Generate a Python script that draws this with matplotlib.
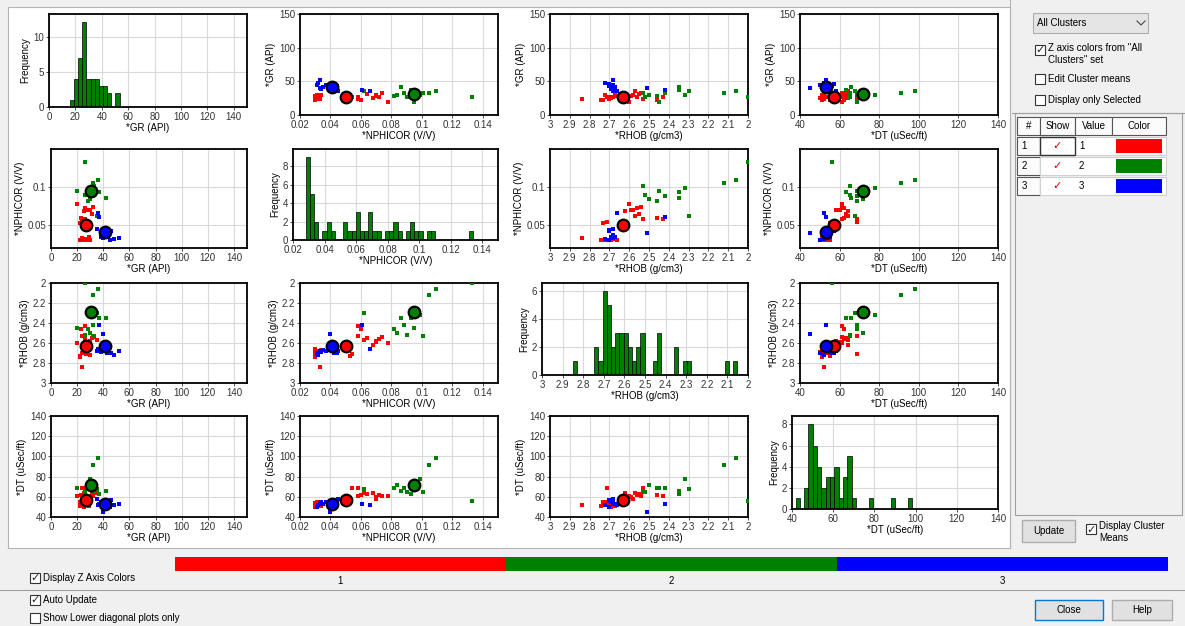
import matplotlib.pyplot as plt
import numpy as np
from matplotlib.patches import Rectangle
from matplotlib.ticker import FuncFormatter

plt.rcParams['font.family'] = ['Liberation Sans', 'DejaVu Sans']
plt.rcParams['font.size'] = 7

######## data ########

var_labels = ['*GR (API)', '*NPHICOR (V/V)', '*RHOB (g/cm3)', '*DT (uSec/ft)']

cluster_names = ['1', '2', '3']
cluster_colors = ['#ff0000', '#008000', '#0000ff']

# cluster 1 (red)
red_gr = [22, 24, 25, 27, 28, 30, 24, 26, 29, 22, 27, 24, 35, 26, 28, 30, 26, 32, 20, 25, 23, 31]
red_nphi = [0.030, 0.031, 0.030, 0.032, 0.030, 0.031, 0.033, 0.030, 0.034, 0.053, 0.054,
            0.058, 0.062, 0.058, 0.070, 0.070, 0.072, 0.074, 0.078, 0.068, 0.060, 0.064]
red_rhob = [2.74, 2.70, 2.69, 2.68, 2.66, 2.72, 2.84, 2.70, 2.67, 2.73, 2.71,
            2.53, 2.57, 2.43, 2.59, 2.58, 2.56, 2.54, 2.60, 2.62, 2.46, 2.55]
red_dt = [51, 52, 50, 53, 52, 55, 52, 54, 51, 55, 69, 69, 64, 61, 60, 58, 62, 61, 61, 64, 62, 63]

# cluster 2 (green)
green_gr = [35, 28, 30, 42, 32, 26, 37, 20, 30, 33, 36, 32, 26]
green_nphi = [0.062, 0.082, 0.084, 0.086, 0.088, 0.090, 0.093, 0.095, 0.099, 0.101, 0.109, 0.105, 0.133]
green_rhob = [2.30, 2.46, 2.50, 2.35, 2.42, 2.52, 2.35, 2.45, 2.32, 2.53, 2.06, 2.12, 2.00]
green_dt = [68, 69, 72, 66, 69, 65, 63, 69, 78, 65, 98, 91, 56]

# cluster 3 (blue)
blue_gr = [45, 48, 40, 38, 42, 52, 44, 40, 46, 35, 36, 37, 43]
blue_nphi = [0.031, 0.032, 0.033, 0.034, 0.035, 0.033, 0.037, 0.040, 0.042, 0.045, 0.066, 0.061, 0.044]
blue_rhob = [2.70, 2.72, 2.68, 2.69, 2.67, 2.68, 2.68, 2.51, 2.70, 2.68, 2.66, 2.42, 2.70]
blue_dt = [50, 52, 54, 55, 53, 53, 55, 45, 57, 58, 52, 53, 56]

# cluster means (big circles)
mean_gr = [27, 30.5, 41]
mean_nphi = [0.050, 0.095, 0.041]
mean_rhob = [2.63, 2.29, 2.63]
mean_dt = [57, 72, 53]

# histograms on the diagonal: first bin edge, bin width, counts
gr_hist_start, gr_hist_width = 15.7, 3.15
gr_hist_counts = [1, 4, 7, 12, 4, 4, 4, 3, 3, 2, 0, 2]
nphi_hist_start, nphi_hist_width = 0.028, 0.00265
nphi_hist_counts = [9, 5, 2, 0, 1, 2, 1, 0, 0, 2, 1, 1, 3, 1, 1, 3, 1, 1, 0, 1,
                    1, 2, 1, 0, 1, 2, 1, 1, 0, 1, 1, 0, 0, 0, 0, 0, 0, 0, 0, 1]
rhob_hist_start, rhob_hist_width = 2.052, 0.02044
rhob_hist_counts = [1, 0, 1, 0, 0, 0, 0, 0, 0, 0, 0, 1, 1, 0, 2, 0, 0, 0, 3, 1,
                    0, 0, 3, 2, 1, 2, 3, 3, 3, 2, 5, 6, 1, 2, 0, 0, 0, 0, 1]
dt_hist_start, dt_hist_width = 41.7, 2.1
dt_hist_counts = [1, 0, 2, 8, 6, 4, 2, 3, 3, 4, 1, 3, 5, 1, 0, 0, 0, 1, 0, 0, 0, 0, 1, 0, 0, 0, 1]

points = [
    [red_gr, red_nphi, red_rhob, red_dt],
    [green_gr, green_nphi, green_rhob, green_dt],
    [blue_gr, blue_nphi, blue_rhob, blue_dt],
]
means = [mean_gr, mean_nphi, mean_rhob, mean_dt]
hists = [
    (gr_hist_start, gr_hist_width, gr_hist_counts),
    (nphi_hist_start, nphi_hist_width, nphi_hist_counts),
    (rhob_hist_start, rhob_hist_width, rhob_hist_counts),
    (dt_hist_start, dt_hist_width, dt_hist_counts),
]

######## axis settings ########

lims = [(0, 150), (0.02, 0.15), (3, 2), (40, 140)]
xticks = [np.arange(0, 141, 20), np.round(np.arange(0.02, 0.141, 0.02), 2),
          np.round(np.arange(2.0, 3.01, 0.1), 1), np.arange(40, 141, 20)]
yticks = [[0, 50, 100, 150], [0.05, 0.1], np.round(np.arange(2.0, 3.01, 0.2), 1),
          np.arange(40, 141, 20)]
hist_yticks = [[0, 5, 10], [0, 2, 4, 6, 8], [0, 2, 4, 6], [0, 2, 4, 6, 8]]

W, H = 1185, 626
fig = plt.figure(figsize=(W / 100, H / 100), dpi=100, facecolor='#f0f0f0')

bg = fig.add_axes([0, 0, 1, 1], zorder=-5)
bg.set_xlim(0, W)
bg.set_ylim(H, 0)
bg.axis('off')


def px_axes(x0, y0, x1, y1):
    return fig.add_axes([x0 / W, 1 - y1 / H, (x1 - x0) / W, (y1 - y0) / H])


def rect(x0, y0, x1, y1, fc='none', ec='none', lw=0.8):
    bg.add_patch(Rectangle((x0, y0), x1 - x0, y1 - y0, fc=fc, ec=ec, lw=lw))


def checkbox(x, y, checked):
    rect(x, y, x + 10, y + 10, fc='white', ec='#333333', lw=0.8)
    if checked:
        bg.text(x + 5, y + 5.5, '\u2713', ha='center', va='center', fontsize=8,
                family='DejaVu Sans', color='#222222')


def button(x0, y0, x1, y1, label, ec='#adadad'):
    rect(x0, y0, x1, y1, fc='#e1e1e1', ec=ec, lw=1.0)
    bg.text((x0 + x1) / 2, (y0 + y1) / 2, label, ha='center', va='center', fontsize=7)


fmt = FuncFormatter(lambda v, p: '%g' % round(v, 4))

# matrix area
rect(8, 7, 1010, 548, fc='white', ec='#b4b4b4')

lefts_sc = [51, 300, 550, 800]
rights = [247, 498, 748, 998]
lefts_h = [49, 293, 542, 792]
tops = [14, 149, 283, 416]
bottoms_sc = [115, 248, 383, 517]
bottoms_h = [107, 240, 375, 509]

for i in range(4):          # row -> y variable
    for j in range(4):      # column -> x variable
        if i == j:
            ax = px_axes(lefts_h[j], tops[i], rights[j], bottoms_h[i])
            start, width, counts = hists[j]
            edges = start + width * np.arange(len(counts))
            ax.bar(edges, counts, width=width, align='edge', color='#008000',
                   edgecolor='black', linewidth=0.5, zorder=2)
            ax.set_ylim(0, max(counts) * 1.1)
            ax.set_yticks(hist_yticks[j])
            ax.set_ylabel('Frequency', labelpad=2)
        else:
            ax = px_axes(lefts_sc[j], tops[i], rights[j], bottoms_sc[i])
            for c in range(3):
                ax.scatter(points[c][j], points[c][i], marker='s', s=12,
                           color=cluster_colors[c], linewidths=0, zorder=3)
            shown = [0] if j == 2 else [0, 1, 2]
            for c in shown:
                ax.scatter(means[j][c], means[i][c], marker='o', s=70,
                           color=cluster_colors[c], edgecolors='black',
                           linewidths=1.6, zorder=4)
            ax.set_ylim(lims[i])
            ax.set_yticks(yticks[i])
            ax.set_ylabel(var_labels[i], labelpad=2)
        ax.set_xlim(lims[j])
        ax.set_xticks(xticks[j])
        ax.set_xlabel(var_labels[j], labelpad=0.5)
        ax.xaxis.set_major_formatter(fmt)
        ax.yaxis.set_major_formatter(fmt)
        ax.grid(True, color='#d9d9d9', linewidth=0.8)
        ax.set_axisbelow(True)
        ax.tick_params(labelsize=7, length=2, width=0.6, pad=1.5, colors='#333333')
        for s in ax.spines.values():
            s.set_linewidth(1.3)
            s.set_color('black')

######## right-hand panel ########

bg.plot([1010, 1010], [0, 548], color='#b4b4b4', lw=0.8)
rect(1033, 13, 1148, 33, fc='#e5e5e5', ec='#adadad')
bg.text(1037, 23.5, 'All Clusters', va='center', fontsize=7)
bg.plot([1137, 1141, 1145], [21, 25, 21], color='#444444', lw=0.8)

checkbox(1035, 45, True)
bg.text(1048, 48, 'Z axis colors from "All', va='center', fontsize=7)
bg.text(1048, 60, 'Clusters" set', va='center', fontsize=7)
checkbox(1035, 74, False)
bg.text(1048, 79, 'Edit Cluster means', va='center', fontsize=7)
checkbox(1035, 95, False)
bg.text(1048, 100, 'Display only Selected', va='center', fontsize=7)

bg.plot([1012, 1185], [113, 113], color='#a0a0a0', lw=0.8)
rect(1015, 113, 1182, 515, ec='#a0a0a0')

col_x = [1017, 1040, 1075, 1112, 1166]
headers = ['#', 'Show', 'Value', 'Color']
for k, hdr in enumerate(headers):
    rect(col_x[k], 117, col_x[k + 1], 135, fc='#fbfbfb', ec='#555555')
    bg.text((col_x[k] + col_x[k + 1]) / 2, 126, hdr, ha='center', va='center', fontsize=7)
for r in range(len(cluster_names)):
    y0 = 137 + 20 * r
    y1 = y0 + 18
    rect(col_x[0], y0, col_x[1], y1, fc='#fbfbfb', ec='#555555')
    rect(col_x[1], y0, col_x[4], y1, fc='white', ec='#d0d0d0')
    bg.text(1024, (y0 + y1) / 2, str(r + 1), ha='center', va='center', fontsize=7)
    bg.text(1057, (y0 + y1) / 2, '\u2713', ha='center', va='center', fontsize=8,
            family='DejaVu Sans', color='#e00000')
    bg.text(1079, (y0 + y1) / 2, cluster_names[r], va='center', fontsize=7)
    rect(1116, y0 + 2, 1162, y1 - 2, fc=cluster_colors[r])
rect(col_x[1], 137, col_x[2], 155, ec='#333333', lw=1.0)

button(1022, 520, 1075, 542, 'Update')
checkbox(1086, 524, True)
bg.text(1099, 526, 'Display Cluster', va='center', fontsize=7)
bg.text(1099, 538, 'Means', va='center', fontsize=7)

######## bottom strip ########

bar_x0, bar_x1 = 175, 1168
seg = (bar_x1 - bar_x0) / len(cluster_names)
for k, name in enumerate(cluster_names):
    rect(bar_x0 + k * seg, 557, bar_x0 + (k + 1) * seg, 571, fc=cluster_colors[k])
    bg.text(bar_x0 + (k + 0.5) * seg, 581, name, ha='center', va='center', fontsize=7)

checkbox(30, 573, True)
bg.text(43, 578, 'Display Z Axis Colors', va='center', fontsize=7)
bg.plot([0, W], [590, 590], color='#a0a0a0', lw=0.8)
checkbox(30, 595, True)
bg.text(43, 600, 'Auto Update', va='center', fontsize=7)
checkbox(30, 613, False)
bg.text(43, 618, 'Show Lower diagonal plots only', va='center', fontsize=7)

button(1035, 600, 1103, 620, 'Close', ec='#0078d7')
button(1112, 600, 1172, 620, 'Help')

fig.savefig('out.png', dpi=100, facecolor=fig.get_facecolor())
